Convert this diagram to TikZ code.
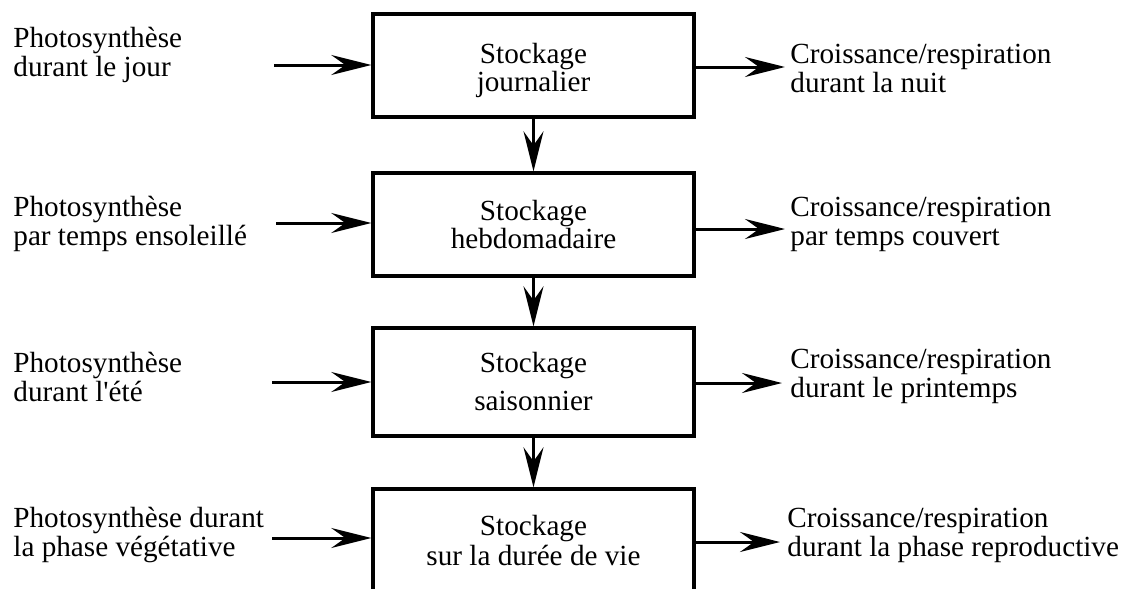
\documentclass[tikz,border=0pt]{standalone}
\usepackage{fontspec}
\setmainfont{Liberation Serif}
\usetikzlibrary{arrows.meta}
\begin{document}
\begin{tikzpicture}[x=0.5pt,y=-0.5pt,
  every node/.style={font=\fontsize{14.6}{14.2}\selectfont, inner sep=0pt},
  box/.style={draw, line width=1.7pt, minimum width=160.5pt, minimum height=51.5pt, align=center},
  lbl/.style={anchor=base west, align=left},
  arr/.style={line width=1.5pt, -{Stealth[length=20pt,width=10pt,inset=7pt]}}]
\useasboundingbox (0,0) rectangle (1125,589);
\node[box] (b1) at (533.5,65.5) {\rule{0pt}{14.9pt}Stockage\\journalier};
\node[box] (b2) at (533.5,224.5) {Stockage\\hebdomadaire};
\node[box, minimum height=54pt] (b3) at (533.5,382) {Stockage\\[4.8pt]saisonnier};
\begin{scope}
\clip (0,0) rectangle (1125,589);
\node[box] (b4) at (533.5,540.5) {Stockage\\[0.8pt]sur la durée de vie};
\end{scope}
\node[lbl] (l1) at (13,76) {Photosynthèse\\durant le jour};
\node[lbl] (l2) at (13,245) {Photosynthèse\\par temps ensoleillé};
\node[lbl] (l3) at (13,401) {Photosynthèse\\durant l\textquotesingle été};
\node[lbl] (l4) at (13,556) {Photosynthèse durant\\la phase végétative};
\node[lbl] (r1) at (790,92) {Croissance/respiration\\durant la nuit};
\node[lbl] (r2) at (790,245) {Croissance/respiration\\par temps couvert};
\node[lbl] (r3) at (790,397) {Croissance/respiration\\durant le printemps};
\node[lbl] (r4) at (787,556) {Croissance/respiration\\durant la phase reproductive};
\coordinate (s1) at (274,65);
\coordinate (s2) at (276,223);
\coordinate (s3) at (272,382);
\coordinate (s4) at (272,538);
\coordinate (t1) at (785,67);
\coordinate (t2) at (785,229);
\coordinate (t3) at (782,383);
\coordinate (t4) at (780,542);
\draw[arr] (s1) -- (s1 -| b1.west);
\draw[arr] (s2) -- (s2 -| b2.west);
\draw[arr] (s3) -- (s3 -| b3.west);
\draw[arr] (s4) -- (s4 -| b4.west);
\draw[arr] (t1 -| b1.east) -- (t1);
\draw[arr] (t2 -| b2.east) -- (t2);
\draw[arr] (t3 -| b3.east) -- (t3);
\draw[arr] (t4 -| b4.east) -- (t4);
\draw[arr] (b1.south) -- (b2.north);
\draw[arr] (b2.south) -- (b3.north);
\draw[arr] (b3.south) -- (b4.north);
\end{tikzpicture}
\end{document}
